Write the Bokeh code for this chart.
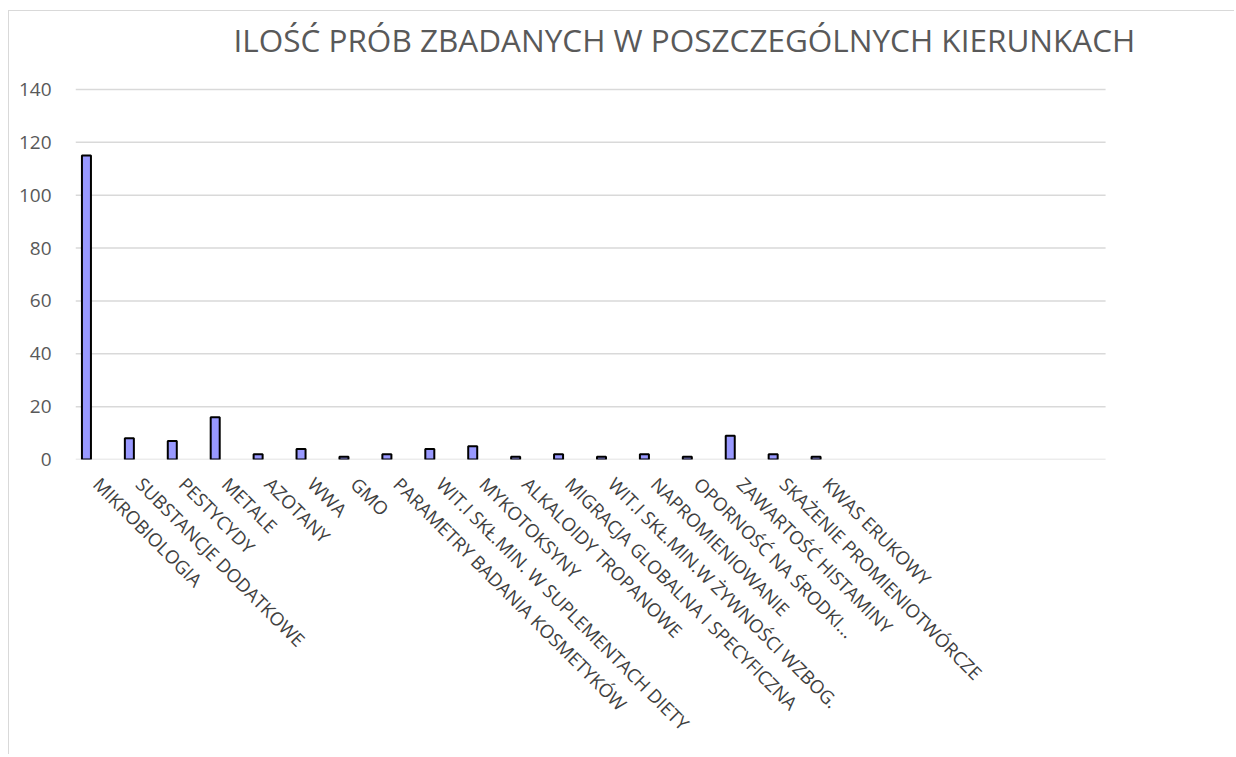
import math
from bokeh.plotting import figure
from bokeh.models import ColumnDataSource, FactorRange, Range1d, FixedTicker, Label
from bokeh.transform import dodge
from bokeh.embed import file_html
from bokeh.resources import INLINE

categories = [
    "MIKROBIOLOGIA",
    "SUBSTANCJE DODATKOWE",
    "PESTYCYDY",
    "METALE",
    "AZOTANY",
    "WWA",
    "GMO",
    "PARAMETRY BADANIA KOSMETYKÓW",
    "WIT.I SKŁ.MIN. W SUPLEMENTACH DIETY",
    "MYKOTOKSYNY",
    "ALKALOIDY TROPANOWE",
    "MIGRACJA GLOBALNA I SPECYFICZNA",
    "WIT.I SKŁ.MIN.W ŻYWNOŚCI WZBOG.",
    "NAPROMIENIOWANIE",
    "OPORNOŚĆ NA ŚRODKI...",
    "ZAWARTOŚĆ HISTAMINY",
    "SKAŻENIE PROMIENIOTWÓRCZE",
    "KWAS ERUKOWY",
]
values = [115, 8, 7, 16, 2, 4, 1, 2, 4, 5, 1, 2, 1, 2, 1, 9, 2, 1]
n_empty = 6                      # empty category slots on the category axis
y_ticks = [0, 20, 40, 60, 80, 100, 120, 140]
title_text = "ILOŚĆ PRÓB ZBADANYCH W POSZCZEGÓLNYCH KIERUNKACH"

FONT = "Open Sans"

empty_categories = [" " * (i + 1) for i in range(n_empty)]
# one extra blank slot on the right gives the title room inside the frame
pad_category = [" " * (n_empty + 1)]
all_factors = categories + empty_categories + pad_category
n_slots = len(categories) + n_empty

src = ColumnDataSource(data=dict(cat=categories, val=values))
grid_src = ColumnDataSource(data=dict(y=y_ticks,
                                      x0=[0] * len(y_ticks),
                                      x1=[n_slots] * len(y_ticks)))

p = figure(
    x_range=FactorRange(factors=all_factors, range_padding=0),
    y_range=Range1d(0, 168),
    width=1226, height=744,
    output_backend="svg", toolbar_location=None,
    min_border_left=66, min_border_right=87,
    min_border_top=4, min_border_bottom=296,
)
p.title.visible = False
p.outline_line_color = None
p.background_fill_color = "white"
p.border_fill_color = "white"
p.styles = {"margin-left": "8px", "margin-top": "10px",
            "border-top": "1px solid #d9d9d9", "border-left": "1px solid #d9d9d9"}

# horizontal gridlines spanning only the real category slots
p.segment(x0="x0", x1="x1", y0="y", y1="y", source=grid_src,
          line_color="#d9d9d9", line_width=1.5)

p.vbar(x=dodge("cat", -0.245, range=p.x_range), top="val", width=0.21,
       fill_color="#9999ff", line_color="black", line_width=2, source=src)

# chart title
p.add_layout(Label(x=3.68, y=158.8, x_units="data", y_units="data",
                   text=title_text, text_font=FONT, text_font_size="31.5px",
                   text_color="#595959", text_baseline="alphabetic",
                   text_align="left"))

p.xgrid.visible = False
p.ygrid.visible = False

p.yaxis.ticker = FixedTicker(ticks=y_ticks)
p.yaxis.axis_line_color = None
p.yaxis.major_tick_line_color = None
p.yaxis.minor_tick_line_color = None
p.yaxis.major_label_text_font = FONT
p.yaxis.major_label_text_font_size = "19px"
p.yaxis.major_label_text_color = "#595959"
p.yaxis.major_label_standoff = 18

p.xaxis.axis_line_color = None
p.xaxis.major_tick_line_color = None
p.xaxis.minor_tick_line_color = None
p.xaxis.major_label_orientation = -math.pi / 4
p.xaxis.major_label_text_font = FONT
p.xaxis.major_label_text_font_size = "18.5px"
p.xaxis.major_label_text_color = "#404040"
p.xaxis.major_label_standoff = 15

open("out.html", "w").write(file_html(p, INLINE))
